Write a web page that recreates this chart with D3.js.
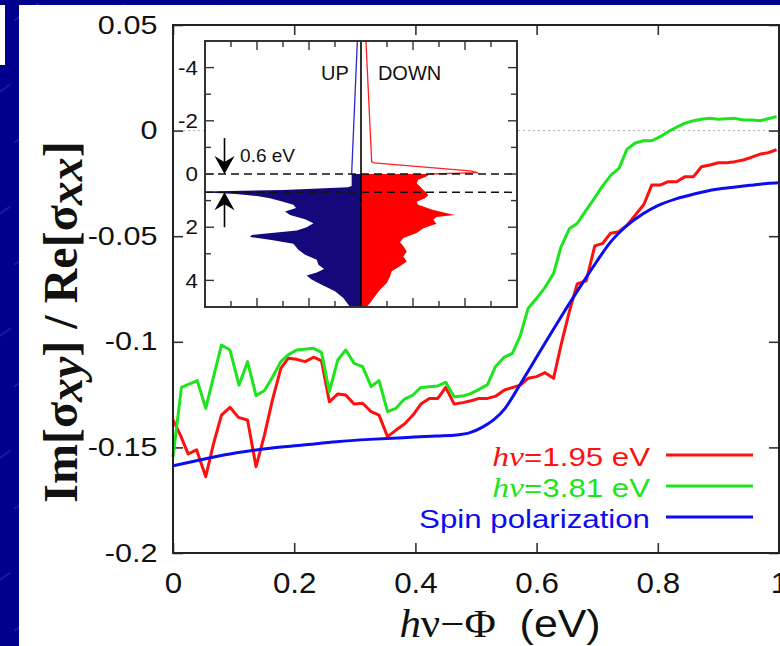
<!DOCTYPE html>
<html>
<head>
<meta charset="utf-8">
<script src="https://cdn.jsdelivr.net/npm/d3@7"></script>
<style>
  html, body { margin: 0; padding: 0; background: #00008c; }
  svg { display: block; }
</style>
</head>
<body>
<div id="chart"></div>
<script>
// ---- main panel: Im[sxy]/Re[sxx] vs hv - Phi (eV)
const xTicks = [0, 0.2, 0.4, 0.6, 0.8, 1];
const xTickLabels = ["0", "0.2", "0.4", "0.6", "0.8", "1"];
const yTicks = [-0.2, -0.15, -0.1, -0.05, 0, 0.05];
const yTickLabels = ["-0.2", "-0.15", "-0.1", "-0.05", "0", "0.05"];

// hv = 1.95 eV
const red195 = [[0,-0.137],[0.012,-0.1441],[0.025,-0.1531],[0.039,-0.1512],[0.054,-0.1639],[0.067,-0.1481],
  [0.080,-0.1347],[0.094,-0.131],[0.108,-0.1358],[0.123,-0.137],[0.137,-0.1591],[0.151,-0.1441],[0.164,-0.1276],
  [0.178,-0.1126],[0.190,-0.1078],[0.204,-0.1083],[0.218,-0.1094],[0.232,-0.1073],[0.245,-0.109],[0.258,-0.1284],
  [0.272,-0.1247],[0.285,-0.1252],[0.299,-0.1295],[0.313,-0.1291],[0.327,-0.1331],[0.340,-0.1347],[0.354,-0.1449],
  [0.368,-0.1418],[0.382,-0.1389],[0.396,-0.1347],[0.409,-0.1295],[0.423,-0.1268],[0.437,-0.1268],[0.450,-0.1216],
  [0.464,-0.1295],[0.478,-0.1288],[0.492,-0.1279],[0.505,-0.1268],[0.519,-0.1268],[0.533,-0.1257],[0.547,-0.1228],
  [0.561,-0.1216],[0.573,-0.1205],[0.586,-0.1173],[0.600,-0.1165],[0.614,-0.1146],[0.628,-0.1173],[0.641,-0.1007],
  [0.654,-0.0857],[0.667,-0.0726],[0.682,-0.0711],[0.696,-0.0546],[0.709,-0.0534],[0.722,-0.0486],[0.736,-0.0479],
  [0.750,-0.0445],[0.763,-0.0400],[0.777,-0.0350],[0.790,-0.0258],[0.804,-0.0258],[0.817,-0.0242],[0.831,-0.0242],
  [0.845,-0.0218],[0.859,-0.0218],[0.872,-0.0171],[0.886,-0.0163],[0.900,-0.0152],[0.914,-0.0152],[0.927,-0.0147],
  [0.941,-0.0139],[0.955,-0.0126],[0.969,-0.0111],[0.982,-0.0105],[0.996,-0.0090]];

// hv = 3.81 eV
const green381 = [[0,-0.1544],[0.014,-0.1216],[0.040,-0.1184],[0.054,-0.1315],[0.080,-0.1015],[0.094,-0.1039],
  [0.109,-0.1205],[0.123,-0.1094],[0.137,-0.1255],[0.151,-0.1231],[0.164,-0.1168],[0.178,-0.1094],[0.190,-0.1062],
  [0.204,-0.1039],[0.232,-0.1031],[0.245,-0.105],[0.258,-0.1236],[0.272,-0.1086],[0.285,-0.1039],[0.299,-0.1102],
  [0.313,-0.1118],[0.327,-0.1212],[0.340,-0.1184],[0.354,-0.1331],[0.368,-0.1315],[0.382,-0.1271],[0.396,-0.1252],
  [0.409,-0.1216],[0.437,-0.1209],[0.450,-0.1192],[0.464,-0.126],[0.478,-0.1257],[0.492,-0.1244],[0.505,-0.1225],
  [0.519,-0.1203],[0.532,-0.1118],[0.546,-0.1074],[0.560,-0.1055],[0.573,-0.0972],[0.586,-0.0842],[0.600,-0.0794],
  [0.614,-0.0742],[0.628,-0.0676],[0.640,-0.0553],[0.654,-0.0465],[0.667,-0.044],[0.681,-0.0380],[0.695,-0.0322],
  [0.709,-0.0262],[0.723,-0.021],[0.736,-0.0179],[0.749,-0.0089],[0.762,-0.006],[0.776,-0.0048],[0.790,-0.0048],
  [0.804,-0.0029],[0.817,-0.0005],[0.831,0.0016],[0.845,0.0035],[0.859,0.0047],[0.872,0.0054],[0.886,0.0058],
  [0.900,0.0054],[0.914,0.0056],[0.927,0.0058],[0.941,0.005],[0.955,0.005],[0.969,0.0047],[0.982,0.0056],[0.996,0.0066]];

// spin polarization
const spinPol = [[0,-0.1587],[0.05,-0.1556],[0.105,-0.1525],[0.16,-0.1504],[0.215,-0.1489],[0.27,-0.1473],
  [0.325,-0.1462],[0.38,-0.1454],[0.435,-0.1446],[0.468,-0.1441],[0.49,-0.1430],[0.51,-0.1405],[0.529,-0.137],
  [0.548,-0.1315],[0.564,-0.1244],[0.589,-0.1125],[0.617,-0.0991],[0.644,-0.0865],[0.672,-0.0739],[0.699,-0.0621],
  [0.72,-0.0535],[0.745,-0.046],[0.775,-0.0395],[0.80,-0.0355],[0.83,-0.0323],[0.86,-0.0300],[0.897,-0.0278],
  [0.925,-0.0268],[0.952,-0.0259],[0.98,-0.0250],[1.0,-0.0247]];

const seriesColors = ["#ff1010", "#1ee41e", "#0c0cf0"];

// ---- inset: spin resolved DOS, [energy (eV), DOS]; UP to the left, DOWN to the right
const insetETicks = [-4, -2, 0, 2, 4];
const upLine = [[-5,0.14],[0,0.36]];
const upFill = [[0,0.36],[0.45,0.36],[0.5,0.5],[0.6,3.0],[0.66,6.0],[0.7,6.0],[0.75,4.8],[0.83,4.0],[0.91,3.5],
  [1.04,3.0],[1.16,2.6],[1.28,2.5],[1.41,2.92],[1.54,2.73],[1.7,2.15],[1.85,1.83],[2.0,2.09],[2.12,2.47],
  [2.29,4.2],[2.37,4.27],[2.47,3.5],[2.62,2.6],[2.85,2.41],[3.04,2.15],[3.22,1.7],[3.41,1.64],[3.57,1.42],
  [3.7,1.7],[3.82,2.09],[3.97,1.9],[4.16,1.51],[4.41,1.0],[4.66,0.68],[5.0,0.42]];
const downLine = [[-5,0.19],[-0.47,0.41],[-0.42,0.5],[-0.12,4.19],[-0.05,4.5],[0,2.65]];
const downFill = [[0,2.65],[0.1,2.5],[0.22,2.2],[0.35,2.14],[0.47,2.27],[0.6,2.4],[0.69,2.5],[0.79,2.59],
  [0.91,2.46],[1.04,2.14],[1.16,2.2],[1.35,2.78],[1.54,3.6],[1.62,2.9],[1.72,2.78],[1.87,2.9],[2.04,2.4],
  [2.22,2.14],[2.41,1.63],[2.57,1.5],[2.72,1.63],[2.91,1.76],[3.1,1.63],[3.29,1.76],[3.47,1.5],[3.66,1.18],
  [3.85,1.12],[4.1,0.99],[4.35,0.73],[4.6,0.54],[4.85,0.35],[5,0.22]];
const gapEdges = [0, 0.69];   // the two dashed levels

const W = 780, H = 646;
const sans = "'Liberation Sans', Arial, Helvetica, sans-serif";
const serif = "'Liberation Serif', 'Times New Roman', serif";

let svg = d3.select("#chart").append("svg")
    .attr("width", W)
    .attr("height", H);

// slide background
svg.append("rect").attr("width", W).attr("height", H).attr("fill", "#00008c");
let pat = svg.append("defs").append("pattern")
    .attr("id", "streaks")
    .attr("patternUnits", "userSpaceOnUse")
    .attr("width", 70).attr("height", 50)
    .attr("patternTransform", "rotate(-35)");
pat.append("line")
    .attr("x1", 0).attr("y1", 25).attr("x2", 30).attr("y2", 25)
    .attr("stroke", "#6f7dff").attr("stroke-width", 0.7).attr("opacity", 0.55);
svg.append("rect").attr("width", W).attr("height", H).attr("fill", "url(#streaks)");
svg.append("rect").attr("x", 0).attr("y", 5).attr("width", 5).attr("height", 60).attr("fill", "#fff");
svg.append("rect").attr("x", 19).attr("y", 5).attr("width", W - 19).attr("height", H - 5).attr("fill", "#fff");

// scales
let x = d3.scaleLinear().domain([0, 1]).range([173, 779]);
let y = d3.scaleLinear().domain([-0.2, 0.05]).range([553, 25]);

// dotted zero line
svg.append("line")
    .attr("x1", x(0)).attr("x2", x(1))
    .attr("y1", y(0)).attr("y2", y(0))
    .attr("stroke", "#b0b0b0").attr("stroke-width", 1)
    .attr("stroke-dasharray", "2,3");

// axes (ticks point inward)
function styleAxis(g) {
  g.select(".domain").remove();
  g.selectAll(".tick line").attr("stroke", "#333").attr("stroke-width", 1.6);
  g.selectAll("text").attr("fill", "#111").attr("font-family", sans);
}
svg.append("g")
    .attr("transform", "translate(" + x(0) + ",0)")
    .call(d3.axisLeft(y).tickValues(yTicks).tickFormat((d, i) => yTickLabels[i]).tickSize(-10).tickPadding(13))
    .call(styleAxis)
    .selectAll("text")
      .attr("font-size", 25.5)
      .attr("transform", "scale(1.2,1)");
svg.append("g")
    .attr("transform", "translate(" + x(1) + ",0)")
    .call(d3.axisRight(y).tickValues(yTicks).tickFormat("").tickSize(-10))
    .call(styleAxis);
svg.append("g")
    .attr("transform", "translate(0," + y(-0.2) + ")")
    .call(d3.axisBottom(x).tickValues(xTicks).tickFormat((d, i) => xTickLabels[i]).tickSize(-10).tickPadding(19))
    .call(styleAxis)
    .selectAll("text")
      .attr("font-size", 29)
      .attr("transform", "scale(1.08,1)");
svg.append("g")
    .attr("transform", "translate(0," + y(0.05) + ")")
    .call(d3.axisTop(x).tickValues(xTicks).tickFormat("").tickSize(-10))
    .call(styleAxis);

// curves
let line = d3.line().x(d => x(d[0])).y(d => y(d[1]));
let curves = [red195, green381, spinPol];
curves.forEach((data, i) => {
  svg.append("path")
      .datum(data)
      .attr("fill", "none")
      .attr("stroke", seriesColors[i])
      .attr("stroke-width", 3)
      .attr("stroke-linejoin", "round")
      .attr("d", i == 2 ? line.curve(d3.curveMonotoneX)(data) : line.curve(d3.curveLinear)(data));
});

// frame
svg.append("rect")
    .attr("x", x(0)).attr("y", y(0.05))
    .attr("width", x(1) - x(0)).attr("height", y(-0.2) - y(0.05))
    .attr("fill", "none").attr("stroke", "#222").attr("stroke-width", 2);

// legend
let legendRows = [
  {pre: "hν", txt: "=1.95 eV"},
  {pre: "hν", txt: "=3.81 eV"},
  {pre: "", txt: "Spin polarization"}
];
legendRows.forEach((r, i) => {
  let ly = 455 + i * 31;
  let t = svg.append("text")
      .attr("transform", "translate(650," + (ly + 11) + ") scale(1.25,1)")
      .attr("text-anchor", "end")
      .attr("font-size", 25)
      .attr("fill", seriesColors[i]);
  if (r.pre) t.append("tspan").attr("font-family", serif).attr("font-style", "italic").attr("font-size", 27).text(r.pre);
  t.append("tspan").attr("font-family", sans).text(r.txt);
  svg.append("line")
      .attr("x1", 666).attr("x2", 753)
      .attr("y1", ly).attr("y2", ly)
      .attr("stroke", seriesColors[i]).attr("stroke-width", 3);
});

// axis titles
let yTitle = svg.append("text")
    .attr("transform", "translate(77,322) rotate(-90)")
    .attr("text-anchor", "middle")
    .attr("font-family", serif)
    .attr("font-weight", "bold")
    .attr("font-size", 48)
    .attr("fill", "#111");
yTitle.append("tspan").text("Im[σ");
yTitle.append("tspan").attr("font-style", "italic").attr("dy", 5).text("xy");
yTitle.append("tspan").attr("dy", -5).text("] / Re[σ");
yTitle.append("tspan").attr("font-style", "italic").attr("dy", 5).text("xx");
yTitle.append("tspan").attr("dy", -5).text("]");

let xTitle = svg.append("text")
    .attr("transform", "translate(500,637) scale(1.1,1)")
    .attr("text-anchor", "middle")
    .attr("font-size", 39)
    .attr("fill", "#111");
xTitle.append("tspan").attr("font-family", serif).attr("font-style", "italic").text("h");
xTitle.append("tspan").attr("font-family", serif).text("ν−Φ");
xTitle.append("tspan").attr("font-family", sans).text("\u00a0\u00a0(eV)");

// ---- inset
let ix = d3.scaleLinear().domain([-6, 6]).range([205, 517]);
let iy = d3.scaleLinear().domain([-5, 5]).range([41, 307]);
let inset = svg.append("g");

inset.append("rect")
    .attr("x", ix(-6)).attr("y", iy(-5))
    .attr("width", ix(6) - ix(-6)).attr("height", iy(5) - iy(-5))
    .attr("fill", "#fff");

inset.append("path")
    .datum(upFill)
    .attr("fill", "#15087a")
    .attr("d", d3.area().y(d => iy(d[0])).x0(ix(0)).x1(d => ix(-d[1])));
inset.append("path")
    .datum(downFill)
    .attr("fill", "#ff0000")
    .attr("d", d3.area().y(d => iy(d[0])).x0(ix(0)).x1(d => ix(d[1])));
inset.append("path")
    .datum(upLine)
    .attr("fill", "none").attr("stroke", "#2a2ad0").attr("stroke-width", 1.3)
    .attr("d", d3.line().x(d => ix(-d[1])).y(d => iy(d[0])));
inset.append("path")
    .datum(downLine)
    .attr("fill", "none").attr("stroke", "#ff2020").attr("stroke-width", 1.3)
    .attr("d", d3.line().x(d => ix(d[1])).y(d => iy(d[0])));

// dashed levels
inset.selectAll(".lvl")
    .data(gapEdges)
    .enter().append("line")
      .attr("x1", ix(-6)).attr("x2", ix(5.85))
      .attr("y1", d => iy(d)).attr("y2", d => iy(d))
      .attr("stroke", "#111").attr("stroke-width", 1.5)
      .attr("stroke-dasharray", "8,5");

// centre line
inset.append("line")
    .attr("x1", ix(0)).attr("x2", ix(0))
    .attr("y1", iy(-5)).attr("y2", iy(5))
    .attr("stroke", "#000").attr("stroke-width", 1.6);

// inset ticks
let eMinor = d3.range(-4, 5, 1);
let dMinor = d3.range(-5, 6, 1).filter(d => d != 0);
function tickLen(v) { return v % 2 == 0 ? 9 : 6; }
eMinor.forEach(e => {
  inset.append("line").attr("x1", ix(-6)).attr("x2", ix(-6) + tickLen(e)).attr("y1", iy(e)).attr("y2", iy(e))
      .attr("stroke", "#333").attr("stroke-width", 1.4);
  inset.append("line").attr("x1", ix(6)).attr("x2", ix(6) - tickLen(e)).attr("y1", iy(e)).attr("y2", iy(e))
      .attr("stroke", "#333").attr("stroke-width", 1.4);
});
dMinor.forEach(d => {
  inset.append("line").attr("x1", ix(d)).attr("x2", ix(d)).attr("y1", iy(-5)).attr("y2", iy(-5) + tickLen(d))
      .attr("stroke", "#333").attr("stroke-width", 1.4);
  inset.append("line").attr("x1", ix(d)).attr("x2", ix(d)).attr("y1", iy(5)).attr("y2", iy(5) - tickLen(d))
      .attr("stroke", "#333").attr("stroke-width", 1.4);
});
inset.selectAll(".elab")
    .data(insetETicks)
    .enter().append("text")
      .attr("transform", d => "translate(" + (ix(-6) - 7) + "," + iy(d) + ") scale(1.12,1)")
      .attr("dy", "0.36em")
      .attr("text-anchor", "end")
      .attr("font-family", sans)
      .attr("font-size", 20)
      .attr("fill", "#111")
      .text(d => d);

inset.append("rect")
    .attr("x", ix(-6)).attr("y", iy(-5))
    .attr("width", ix(6) - ix(-6)).attr("height", iy(5) - iy(-5))
    .attr("fill", "none").attr("stroke", "#333").attr("stroke-width", 2);

// arrows marking the gap
function arrow(ax, from, tip) {
  let dir = tip > from ? 1 : -1;
  inset.append("line")
      .attr("x1", ax).attr("x2", ax).attr("y1", from).attr("y2", tip - dir * 10)
      .attr("stroke", "#000").attr("stroke-width", 1.6);
  inset.append("path")
      .attr("d", "M" + ax + "," + tip +
                 "L" + (ax - 10) + "," + (tip - dir * 18) +
                 "L" + ax + "," + (tip - dir * 12) +
                 "L" + (ax + 10) + "," + (tip - dir * 18) + "Z")
      .attr("fill", "#000");
}
arrow(ix(-5.25), iy(-1.35), iy(gapEdges[0]));
arrow(ix(-5.25), iy(2.0), iy(gapEdges[1]));

inset.append("text")
    .attr("x", ix(-4.65)).attr("y", iy(-0.45))
    .attr("font-family", sans).attr("font-size", 19).attr("fill", "#111")
    .text("0.6 eV");
inset.append("text")
    .attr("x", ix(-1.0)).attr("y", iy(-3.52))
    .attr("text-anchor", "middle")
    .attr("font-family", sans).attr("font-size", 20).attr("fill", "#111")
    .text("UP");
inset.append("text")
    .attr("x", ix(0.65)).attr("y", iy(-3.52))
    .attr("font-family", sans).attr("font-size", 20).attr("fill", "#111")
    .text("DOWN");
</script>
</body>
</html>
